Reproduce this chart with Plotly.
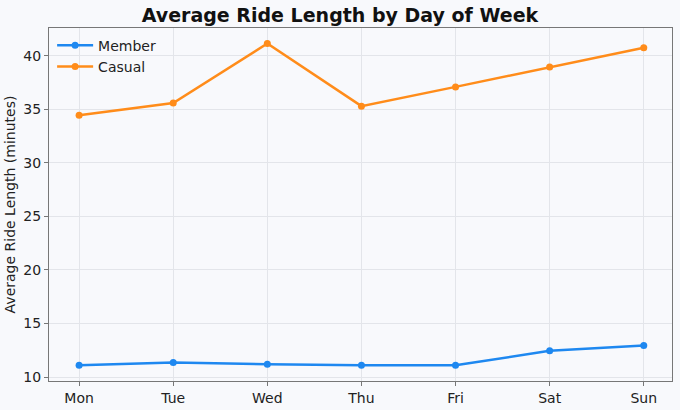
import plotly.graph_objects as go

days = ["Mon", "Tue", "Wed", "Thu", "Fri", "Sat", "Sun"]
member = [11.1, 11.35, 11.2, 11.1, 11.1, 12.45, 12.95]
casual = [34.45, 35.6, 41.15, 35.3, 37.1, 38.95, 40.75]

fig = go.Figure()
fig.add_trace(go.Scatter(x=list(range(len(days))), y=member, mode="lines+markers", name="Member",
                         line=dict(color="#1E88F0", width=2.5), marker=dict(size=7, color="#1E88F0")))
fig.add_trace(go.Scatter(x=list(range(len(days))), y=casual, mode="lines+markers", name="Casual",
                         line=dict(color="#FF8C1A", width=2.5), marker=dict(size=7, color="#FF8C1A")))

fig.update_layout(
    width=680, height=410,
    margin=dict(l=49, r=8, t=28, b=29, autoexpand=False),
    paper_bgcolor="#F8F9FC", plot_bgcolor="#F8F9FC",
    font=dict(family="DejaVu Sans", size=13, color="#222"),
    title=dict(text="<b>Average Ride Length by Day of Week</b>", x=0.5, xanchor="center",
               y=0.978, yanchor="top", font=dict(size=19, color="#111")),
    legend=dict(x=0.005, y=0.995, xanchor="left", yanchor="top", bgcolor="rgba(0,0,0,0)",
                font=dict(size=14), itemwidth=36),
    showlegend=True,
)
fig.update_xaxes(tickmode="array", tickvals=list(range(len(days))), ticktext=days,
                 range=[-0.32, 6.3], showgrid=True, gridcolor="#E3E5EA", automargin=False,
                 showline=True, linecolor="#777", mirror=True, ticks="outside", ticklen=4,
                 tickcolor="#777", zeroline=False, tickfont=dict(size=14))
fig.update_yaxes(range=[9.63, 42.6], tickvals=[10, 15, 20, 25, 30, 35, 40], automargin=False,
                 showgrid=True, gridcolor="#E3E5EA",
                 showline=True, linecolor="#777", mirror=True, ticks="outside", ticklen=4,
                 tickcolor="#777", zeroline=False, tickfont=dict(size=14),
                 title=dict(text="Average Ride Length (minutes)", font=dict(size=14), standoff=4))

fig.write_html("out.html")
